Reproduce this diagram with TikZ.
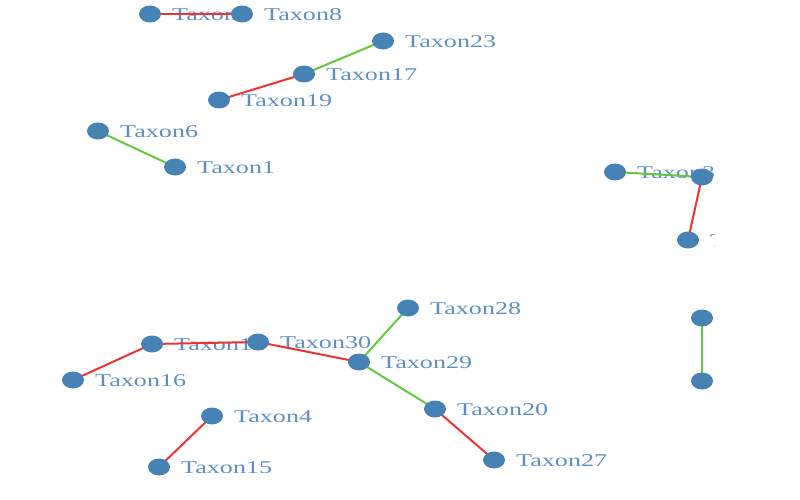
\documentclass[tikz,border=0pt]{standalone}
\usepackage{fontspec}
\setmainfont{Liberation Serif}
\usetikzlibrary{shapes.geometric}
\definecolor{nodeblue}{RGB}{70,130,180}
\definecolor{labblue}{RGB}{92,144,196}
\definecolor{lred}{RGB}{240,50,50}
\definecolor{lgreen}{RGB}{100,200,60}
\pgfdeclarelayer{labels}
\pgfdeclarelayer{links}
\pgfsetlayers{labels,links,main}
\tikzset{
 taxon/.style={ellipse, fill=nodeblue, minimum width=22pt, minimum height=17pt, inner sep=0pt},
 lab/.style={anchor=west, text=labblue, inner sep=0pt, font=\fontsize{18}{18}\selectfont},
 redlink/.style={draw=lred, line width=2pt},
 greenlink/.style={draw=lgreen, line width=2pt},
}
\newcommand\tx[1]{\scalebox{1.45}[1]{#1}}
\begin{document}
\begin{tikzpicture}[x=1pt,y=-1pt]
\useasboundingbox (0,0) rectangle (800,500);
\begin{scope}
\clip (0,0) rectangle (714,500);
% nodes
\node[taxon] (t7)  at (150,14) {};
\node[taxon] (t8)  at (242,14) {};
\node[taxon] (t23) at (383,41) {};
\node[taxon] (t17) at (304,74) {};
\node[taxon] (t19) at (219,100) {};
\node[taxon] (t6)  at (98,131) {};
\node[taxon] (t1)  at (175,167) {};
\node[taxon] (t3)  at (615,172) {};
\node[taxon] (na)  at (702,177) {};
\node[taxon] (nb)  at (688,240) {};
\node[taxon] (nc)  at (702,318) {};
\node[taxon] (nd)  at (702,381) {};
\node[taxon] (t28) at (408,308) {};
\node[taxon] (t12) at (152,344) {};
\node[taxon] (t30) at (258,342) {};
\node[taxon] (t29) at (359,362) {};
\node[taxon] (t16) at (73,380) {};
\node[taxon] (t4)  at (212,416) {};
\node[taxon] (t20) at (435,409) {};
\node[taxon] (t15) at (159,467) {};
\node[taxon] (t27) at (494,460) {};
\end{scope}
% labels
\begin{pgfonlayer}{labels}
\begin{scope}
\clip (0,0) rectangle (714,500);
\node[lab] (l7)  at ([xshift=22pt,yshift=-1pt]t7.center)  {\tx{Taxon7}};
\node[lab] (l8)  at ([xshift=22pt,yshift=-1pt]t8.center)  {\tx{Taxon8}};
\node[lab] (l23) at ([xshift=22pt,yshift=-1pt]t23.center) {\tx{Taxon23}};
\node[lab] (l17) at ([xshift=22pt,yshift=-1pt]t17.center) {\tx{Taxon17}};
\node[lab] (l19) at ([xshift=22pt,yshift=-1pt]t19.center) {\tx{Taxon19}};
\node[lab] (l6)  at ([xshift=22pt,yshift=-1pt]t6.center)  {\tx{Taxon6}};
\node[lab] (l1)  at ([xshift=22pt,yshift=-1pt]t1.center)  {\tx{Taxon1}};
\node[lab] (l3)  at ([xshift=22pt,yshift=-1pt]t3.center)  {\tx{Taxon3}};
\node[lab] (lb)  at ([xshift=22pt,yshift=-1pt]nb.center)  {\tx{Taxon2}};
\node[lab] (l28) at ([xshift=22pt,yshift=-1pt]t28.center) {\tx{Taxon28}};
\node[lab] (l12) at ([xshift=22pt,yshift=-1pt]t12.center) {\tx{Taxon12}};
\node[lab] (l30) at ([xshift=22pt,yshift=-1pt]t30.center) {\tx{Taxon30}};
\node[lab] (l29) at ([xshift=22pt,yshift=-1pt]t29.center) {\tx{Taxon29}};
\node[lab] (l16) at ([xshift=22pt,yshift=-1pt]t16.center) {\tx{Taxon16}};
\node[lab] (l4)  at ([xshift=22pt,yshift=-1pt]t4.center)  {\tx{Taxon4}};
\node[lab] (l20) at ([xshift=22pt,yshift=-1pt]t20.center) {\tx{Taxon20}};
\node[lab] (l15) at ([xshift=22pt,yshift=-1pt]t15.center) {\tx{Taxon15}};
\node[lab] (l27) at ([xshift=22pt,yshift=-1pt]t27.center) {\tx{Taxon27}};
\end{scope}
\end{pgfonlayer}
% links
\begin{pgfonlayer}{links}
\draw[redlink]   (t7.center)  -- (t8.center);
\draw[greenlink] (t23.center) -- (t17.center);
\draw[redlink]   (t17.center) -- (t19.center);
\draw[greenlink] (t6.center)  -- (t1.center);
\draw[greenlink] (t3.center)  -- (na.center);
\draw[redlink]   (na.center)  -- (nb.center);
\draw[greenlink] (nc.center)  -- (nd.center);
\draw[greenlink] (t28.center) -- (t29.center);
\draw[redlink]   (t12.center) -- (t30.center);
\draw[redlink]   (t30.center) -- (t29.center);
\draw[redlink]   (t12.center) -- (t16.center);
\draw[greenlink] (t29.center) -- (t20.center);
\draw[redlink]   (t20.center) -- (t27.center);
\draw[redlink]   (t4.center)  -- (t15.center);
\end{pgfonlayer}
\end{tikzpicture}
\end{document}
